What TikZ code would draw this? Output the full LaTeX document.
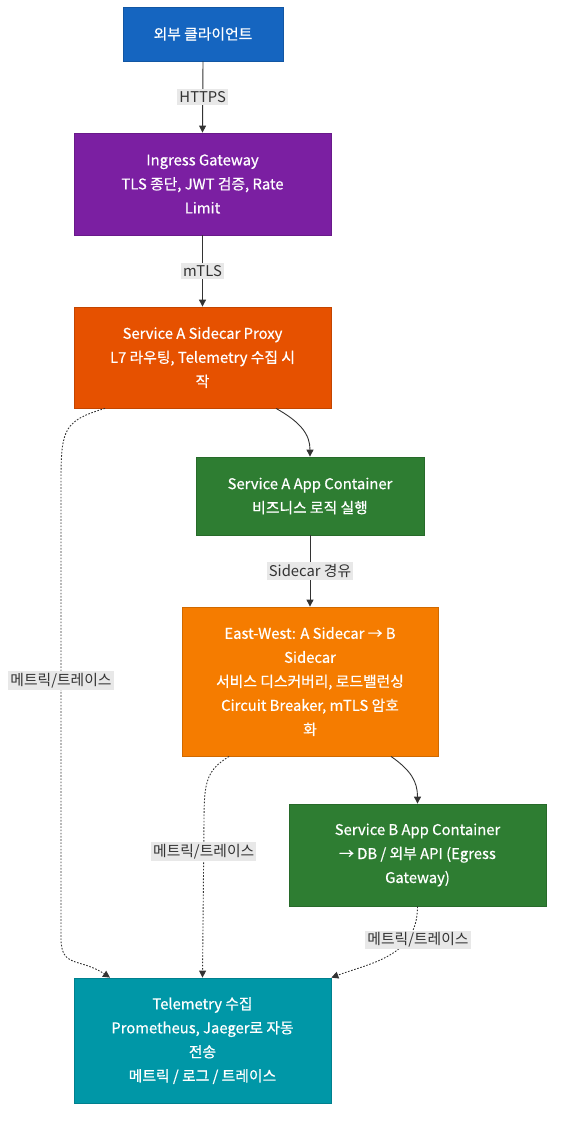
\documentclass[tikz,border=0pt]{standalone}
\usepackage{fontspec}
\setmainfont{Noto Sans CJK KR}
\newfontfamily\nodefont[FakeBold=0.6]{Noto Sans CJK KR}
\usetikzlibrary{arrows.meta}
\definecolor{cblue}{HTML}{1565C0}
\definecolor{cpurple}{HTML}{7B1FA2}
\definecolor{cred}{HTML}{E65100}
\definecolor{cgreen}{HTML}{2E7D32}
\definecolor{corange}{HTML}{F57C00}
\definecolor{cteal}{HTML}{0097A7}
\definecolor{edgec}{HTML}{333333}
\definecolor{lblbg}{HTML}{E8E8E8}
\tikzset{
  box/.style={draw=#1!85!black, line width=0.8pt, fill=#1, text=white, align=center,
    font=\nodefont\fontsize{14.8}{24}\selectfont, inner sep=0pt},
  flow/.style={draw=edgec, line width=0.9pt, -{Triangle[length=7pt,width=7pt]}},
  tele/.style={flow, dash pattern=on 1.6pt off 1.6pt},
  lbl/.style={fill=lblbg, text=edgec, font=\fontsize{14.8}{17}\selectfont, inner sep=2pt}
}
\begin{document}
\begin{tikzpicture}[x=1pt,y=-1pt]
\useasboundingbox (0,0) rectangle (562,1126);
\node[box=cblue, minimum width=160pt, minimum height=54pt] (cl) at (203,34) {외부 클라이언트};
\node[box=cpurple, minimum width=257pt, minimum height=102pt] (ig) at (202.5,184) {Ingress Gateway\\TLS 종단, JWT 검증, Rate\\Limit};
\node[box=cred, minimum width=257pt, minimum height=101pt] (sa) at (202.5,357.5) {Service A Sidecar Proxy\\L7 라우팅, Telemetry 수집 시\\작};
\node[box=cgreen, minimum width=228pt, minimum height=78pt] (aa) at (310,496) {Service A App Container\\비즈니스 로직 실행};
\node[box=corange, minimum width=256pt, minimum height=149pt] (ew) at (310,681.5) {East-West: A Sidecar → B\\Sidecar\\서비스 디스커버리, 로드밸런싱\\Circuit Breaker, mTLS 암호\\화};
\node[box=cgreen, minimum width=257pt, minimum height=102pt] (ab) at (417.5,855) {Service B App Container\\→ DB / 외부 API (Egress\\Gateway)};
\node[box=cteal, minimum width=257pt, minimum height=125pt] (tel) at (202.5,1040.5) {Telemetry 수집\\Prometheus, Jaeger로 자동\\전송\\메트릭 / 로그 / 트레이스};

\draw[flow] (cl.south) -- node[lbl] {HTTPS} (ig.north);
\draw[flow] (ig.south) -- node[lbl] {mTLS} (sa.north);
\draw[flow] ([xshift=73.5pt]sa.south) .. controls ++(25,14) and ++(0,-22) .. (aa.north);
\draw[flow] (aa.south) -- node[lbl] {Sidecar 경유} (ew.north);
\draw[flow] ([xshift=81pt]ew.south) .. controls ++(20,14) and ++(0,-22) .. (ab.north);

\draw[tele] ([xshift=-97.5pt]sa.south) .. controls ++(-40,12) and ++(0,-50) .. ++(-44,70)
  -- node[lbl, pos=0.44] {메트릭/트레이스} ++(0,460)
  .. controls ++(0,30) and ++(-30,-20) .. ([xshift=-92.5pt]tel.north);
\draw[tele] ([xshift=-81pt]ew.south) .. controls ++(-22,14) and ++(0,-40) .. ++(-25,64)
  -- node[lbl, pos=0.2] {메트릭/트레이스} (tel.north);
\draw[tele] (ab.south) .. controls ++(0,50) and ++(40,-15) .. (tel.north east);
\node[lbl] (l3) at (418,940) {메트릭/트레이스};
\end{tikzpicture}
\end{document}
